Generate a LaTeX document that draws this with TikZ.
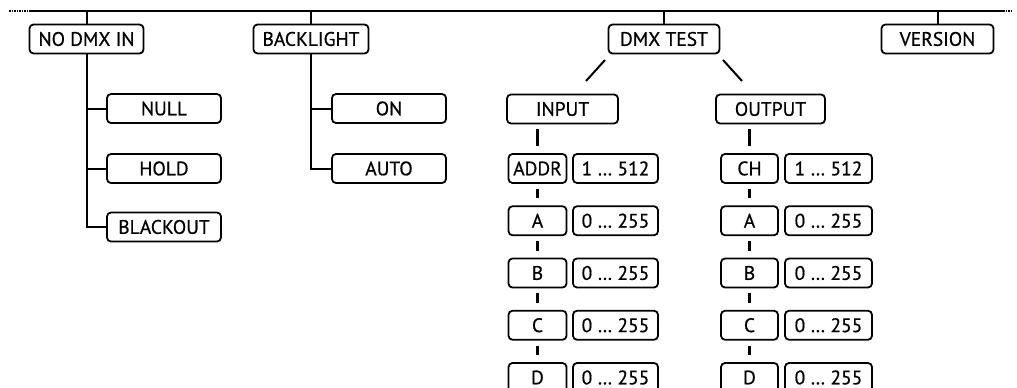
\documentclass[tikz,border=0pt]{standalone}
\usepackage{fontspec}
\setmainfont{PT Sans}[FakeBold=0.6]
\begin{document}
\begin{tikzpicture}[x=1pt,y=-1pt,
  box/.style={draw, line width=1.8pt, rounded corners=4pt, inner sep=0pt,
    minimum height=29pt, font=\fontsize{19.5}{21}\selectfont, text height=13.6pt, text depth=0pt},
  link/.style={line width=2pt},
  tick/.style={line width=2.2pt, shorten <=5pt, shorten >=7pt}]
\useasboundingbox (0,0) rectangle (1017,388);
\clip (0,0) rectangle (1017,388);
% top line
\coordinate (L) at (29,11);
\coordinate (R) at (1003,11);
\coordinate (Ld) at (9,11);
\coordinate (Rd) at (1013,11);
\draw[link] (L) -- (R);
\draw[line width=1.4pt, dash pattern=on 1.5pt off 1pt] (Ld) -- (L);
\draw[line width=1.4pt, dash pattern=on 1.5pt off 1pt] (R) -- (Rd);
% top level
\node[box, minimum width=114pt] (nodmx) at (86.5,39) {NO DMX IN};
\node[box, minimum width=115pt] (backlight) at (311,39) {BACKLIGHT};
\node[box, minimum width=111pt] (dmxtest) at (664,39) {DMX TEST};
\node[box, minimum width=112pt] (version) at (937.5,39) {VERSION};
\draw[link] (nodmx.north) -- (nodmx.north |- L);
\draw[link] (backlight.north) -- (backlight.north |- L);
\draw[link] (dmxtest.north) -- (dmxtest.north |- L);
\draw[link] (version.north) -- (version.north |- L);
% NO DMX IN branch
\node[box, minimum width=114pt] (null) at (164,108.5) {NULL};
\node[box, minimum width=114pt] (hold) at (164,168.5) {HOLD};
\node[box, minimum width=114pt] (blackout) at (164,227) {BLACKOUT};
\draw[link] (nodmx.south) |- (blackout.west);
\draw[link] (null.west) -- (null.west -| nodmx.south);
\draw[link] (hold.west) -- (hold.west -| nodmx.south);
% BACKLIGHT branch
\node[box, minimum width=114pt] (on) at (389,108.5) {ON};
\node[box, minimum width=114pt] (auto) at (389,168.5) {AUTO};
\draw[link] (backlight.south) |- (auto.west);
\draw[link] (on.west) -- (on.west -| backlight.south);
% DMX TEST branch
\node[box, minimum width=111pt] (input) at (562.5,109) {INPUT};
\node[box, minimum width=109pt] (output) at (770.5,109) {OUTPUT};
\coordinate (d1a) at (605,60);
\coordinate (d1b) at (586,81);
\coordinate (d2a) at (723,60);
\coordinate (d2b) at (742,81);
\draw[link] (d1a) -- (d1b);
\draw[link] (d2a) -- (d2b);
% input column
\foreach \n/\t/\v [count=\i from 0] in {addr/ADDR/1 … 512, ia/A/0 … 255, ib/B/0 … 255, ic/C/0 … 255, id/D/0 … 255}{
  \node[box, minimum width=58pt] (\n) at (537.5,168.5+52.25*\i) {\t};
  \node[box, minimum width=85pt] (\n v) at (615.5,168.5+52.25*\i) {\v};
}
\foreach \n/\t/\v [count=\i from 0] in {ch/CH/1 … 512, oa/A/0 … 255, ob/B/0 … 255, oc/C/0 … 255, od/D/0 … 255}{
  \node[box, minimum width=57pt] (\n) at (749.5,168.5+52.25*\i) {\t};
  \node[box, minimum width=87pt] (\n v) at (828.5,168.5+52.25*\i) {\v};
}
\draw[tick] (addr.north |- input.south) -- (addr.north);
\draw[tick] (addr.south) -- (ia.north);
\draw[tick] (ia.south) -- (ib.north);
\draw[tick] (ib.south) -- (ic.north);
\draw[tick] (ic.south) -- (id.north);
\draw[tick] (ch.north |- output.south) -- (ch.north);
\draw[tick] (ch.south) -- (oa.north);
\draw[tick] (oa.south) -- (ob.north);
\draw[tick] (ob.south) -- (oc.north);
\draw[tick] (oc.south) -- (od.north);
\end{tikzpicture}
\end{document}
